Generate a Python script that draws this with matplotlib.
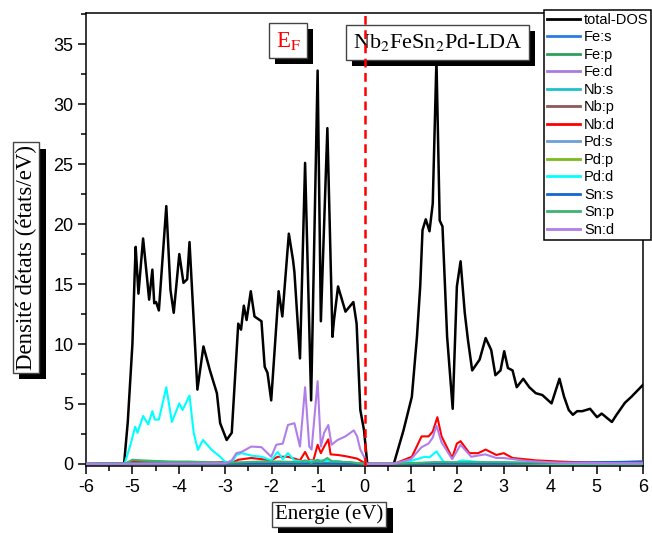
import matplotlib
matplotlib.use("Agg")
import matplotlib.pyplot as plt
from matplotlib import patheffects as pe
from matplotlib.ticker import MultipleLocator

plt.rcParams['font.family'] = ['Liberation Sans', 'DejaVu Sans']
plt.rcParams['axes.unicode_minus'] = False
plt.rcParams['mathtext.fontset'] = 'stix'

# ---------------- data ----------------
tot_E = [-6.0, -5.18, -5.10, -5.00, -4.95, -4.93, -4.87, -4.77, -4.68, -4.64, -4.57, -4.53, -4.49,
         -4.43, -4.27, -4.18, -4.11, -3.99, -3.90, -3.82, -3.77, -3.68, -3.60, -3.47, -3.33,
         -3.18, -3.11, -2.97, -2.86, -2.72, -2.66, -2.60, -2.54, -2.45, -2.37, -2.22, -2.15,
         -2.09, -2.01, -1.85, -1.77, -1.63, -1.54, -1.51, -1.39, -1.28, -1.15, -1.01, -0.94,
         -0.80, -0.69, -0.66, -0.57, -0.41, -0.24, -0.17, -0.09, -0.01, 0.06, 0.63, 0.84,
         1.02, 1.13, 1.20, 1.25, 1.32, 1.40, 1.47, 1.55, 1.62, 1.68, 1.78, 1.90, 1.99, 2.07,
         2.16, 2.23, 2.32, 2.48, 2.61, 2.73, 2.82, 2.93, 3.01, 3.09, 3.19, 3.28, 3.42, 3.55,
         3.69, 3.83, 4.03, 4.20, 4.30, 4.40, 4.49, 4.58, 4.69, 4.86, 5.01, 5.11, 5.33, 5.43,
         5.61, 5.75, 6.0]
tot_V = [0.0, 0.0, 3.5, 10.0, 16.0, 18.1, 14.2, 18.8, 15.3, 13.7, 16.2, 13.4, 13.5,
         12.8, 21.5, 14.5, 12.6, 17.5, 15.1, 15.4, 18.5, 12.0, 6.2, 9.8, 7.8,
         5.9, 3.4, 2.0, 2.6, 11.7, 11.2, 13.2, 12.0, 14.4, 12.3, 11.9, 8.1,
         7.6, 5.3, 14.4, 12.3, 19.2, 17.0, 16.0, 8.8, 25.1, 5.3, 32.8, 11.9,
         28.0, 10.6, 11.9, 14.8, 12.7, 13.5, 11.7, 4.5, 2.8, 0.0, 0.0, 2.8,
         5.6, 10.6, 14.8, 19.5, 20.4, 19.4, 21.7, 33.7, 20.3, 19.8, 10.6, 4.6, 14.8, 16.9,
         12.6, 10.3, 7.8, 8.7, 10.5, 9.5, 7.4, 7.8, 9.4, 8.0, 7.8, 6.4, 7.1, 6.4,
         5.9, 5.75, 5.05, 7.1, 5.6, 4.5, 4.1, 4.4, 4.4, 4.6, 3.9, 4.2, 3.5, 4.1,
         5.1, 5.6, 6.6]

pdd_E = [-6.0, -5.17, -5.05, -4.94, -4.89, -4.77, -4.66, -4.57, -4.52, -4.43, -4.27, -4.15,
         -3.99, -3.92, -3.77, -3.68, -3.59, -3.48, -3.29, -3.11, -3.01, -2.86, -2.76, -2.65,
         -2.44, -2.22, -2.01, -1.87, -1.76, -1.65, -1.51, -1.30, -1.01, -0.73, -0.30, 0.0,
         0.6, 1.0, 1.3, 1.4, 1.55, 1.7, 1.9, 2.1, 2.5, 3.0, 4.0, 6.0]
pdd_V = [0.0, 0.0, 1.5, 3.1, 2.6, 4.0, 3.3, 4.4, 3.7, 3.7, 6.4, 3.5,
         5.05, 4.5, 5.7, 2.6, 1.17, 2.0, 1.17, 0.6, 0.2, 0.1, 0.75, 0.9,
         0.7, 0.6, 0.3, 1.0, 0.4, 0.9, 0.3, 0.2, 0.3, 0.25, 0.1, 0.0,
         0.0, 0.25, 0.6, 0.55, 1.05, 0.2, 0.05, 0.3, 0.15, 0.1, 0.05, 0.05]

snd_E = [-6.0, -3.0, -2.86, -2.76, -2.65, -2.44, -2.22, -2.01, -1.90, -1.76, -1.65, -1.51,
         -1.39, -1.28, -1.19, -1.14, -1.01, -0.94, -0.87, -0.78, -0.71, -0.58, -0.41, -0.23,
         -0.16, -0.09, -0.01, 0.05, 0.6, 1.0, 1.23, 1.38, 1.47, 1.55, 1.66, 1.89, 2.07, 2.3,
         2.6, 2.84, 3.0, 3.5, 4.2, 6.0]
snd_V = [0.0, 0.05, 0.3, 0.9, 1.0, 1.45, 1.4, 0.6, 1.6, 1.7, 3.25, 3.4,
         1.45, 6.4, 1.45, 1.2, 6.9, 1.45, 2.6, 3.25, 1.6, 2.0, 2.3, 2.8,
         2.3, 1.2, 0.6, 0.0, 0.0, 0.4, 1.4, 1.7, 2.2, 3.2, 1.8, 0.4, 1.6, 0.6,
         0.8, 0.5, 0.5, 0.25, 0.1, 0.05]

nbd_E = [-6.0, -5.17, -5.0, -4.5, -4.0, -3.5, -3.0, -2.86, -2.72, -2.44, -2.22, -2.01,
         -1.87, -1.65, -1.51, -1.39, -1.28, -1.19, -1.10, -1.01, -0.94, -0.87, -0.78, -0.73,
         -0.58, -0.41, -0.16, -0.05, 0.02, 0.63, 1.02, 1.23, 1.38, 1.47, 1.57, 1.66, 1.89,
         1.99, 2.07, 2.26, 2.45, 2.61, 2.84, 3.0, 3.19, 3.69, 4.2, 5.0, 6.0]
nbd_V = [0.0, 0.0, 0.15, 0.1, 0.15, 0.1, 0.15, 0.1, 0.35, 0.5, 0.4, 0.3,
         0.6, 0.6, 0.45, 0.3, 1.0, 0.3, 0.3, 1.6, 0.9, 1.45, 2.05, 0.8,
         0.75, 0.65, 0.45, 0.2, 0.0, 0.0, 0.6, 2.3, 2.3, 2.7, 3.9, 2.3, 0.5,
         1.7, 1.9, 0.9, 0.9, 1.2, 0.75, 0.9, 0.5, 0.3, 0.2, 0.1, 0.2]

snp_E = [-6.0, -5.17, -5.0, -4.8, -4.5, -4.2, -3.8, -3.0, -2.6, -2.2, -1.8, -1.4, -1.28,
         -1.15, -1.01, -0.94, -0.80, -0.70, -0.30, 0.0, 0.6, 1.5, 2.0, 3.0, 4.0, 6.0]
snp_V = [0.0, 0.0, 0.35, 0.3, 0.25, 0.2, 0.2, 0.1, 0.15, 0.2, 0.2, 0.15, 0.3,
         0.1, 0.35, 0.15, 0.5, 0.2, 0.15, 0.0, 0.0, 0.15, 0.15, 0.15, 0.1, 0.05]

fep_E = [-6.0, -5.17, -5.0, -4.5, -4.0, -3.0, -2.0, -1.28, -1.01, -0.80, -0.3, 0.0, 0.6, 1.5, 3.0, 6.0]
fep_V = [0.0, 0.0, 0.25, 0.2, 0.15, 0.05, 0.1, 0.2, 0.25, 0.3, 0.1, 0.0, 0.0, 0.1, 0.05, 0.02]

fed_E = [-6.0, -3.0, -1.5, -1.0, -0.5, 0.0, 0.6, 1.5, 3.0, 6.0]
fed_V = [0.0, 0.02, 0.05, 0.08, 0.05, 0.0, 0.0, 0.08, 0.03, 0.02]

small_E = [-6.0, -5.0, -3.0, -1.0, 0.0, 0.6, 1.5, 3.0, 6.0]
fes_V = [0.0, 0.03, 0.02, 0.04, 0.0, 0.0, 0.04, 0.03, 0.15]
nbs_V = [0.0, 0.04, 0.02, 0.05, 0.0, 0.0, 0.05, 0.03, 0.1]
nbp_V = [0.0, 0.05, 0.03, 0.06, 0.0, 0.0, 0.06, 0.04, 0.08]
pds_V = [0.0, 0.03, 0.02, 0.03, 0.0, 0.0, 0.03, 0.02, 0.05]
pdp_V = [0.0, 0.06, 0.03, 0.05, 0.0, 0.0, 0.04, 0.03, 0.05]
sns_V = [0.0, 0.03, 0.02, 0.03, 0.0, 0.0, 0.03, 0.02, 0.2]

labels = ['total-DOS', 'Fe:s', 'Fe:p', 'Fe:d', 'Nb:s', 'Nb:p', 'Nb:d',
          'Pd:s', 'Pd:p', 'Pd:d', 'Sn:s', 'Sn:p', 'Sn:d']
colors = ['black', '#2a7de1', '#2ca05a', '#a97be0', '#1fc1c9', '#8c5a5a', '#ff0000',
          '#6b9fd6', '#7bbb1c', '#00ffff', '#1565d6', '#3cb371', '#b07ee8']
series = [(tot_E, tot_V), (small_E, fes_V), (fep_E, fep_V), (fed_E, fed_V),
          (small_E, nbs_V), (small_E, nbp_V), (nbd_E, nbd_V), (small_E, pds_V),
          (small_E, pdp_V), (pdd_E, pdd_V), (small_E, sns_V), (snp_E, snp_V), (snd_E, snd_V)]

# ---------------- figure ----------------
W, H = 652, 533
fig = plt.figure(figsize=(W / 100, H / 100), dpi=100)
ax = fig.add_axes([86 / W, 1 - 466 / H, (643 - 86) / W, (466 - 13) / H])

for (xe, yv), lab, col in zip(series, labels, colors):
    ax.plot(xe, yv, color=col, lw=1.8 if lab == 'total-DOS' else 1.5, label=lab, zorder=3)

ax.axvline(0, color='red', lw=1.8, linestyle=(0, (3.5, 2.2)), zorder=6)

ax.set_xlim(-6, 6)
ax.set_ylim(-0.17, 37.6)
ax.xaxis.set_major_locator(MultipleLocator(1))
ax.xaxis.set_minor_locator(MultipleLocator(0.5))
ax.yaxis.set_major_locator(MultipleLocator(5))
ax.yaxis.set_minor_locator(MultipleLocator(2.5))
ax.tick_params(which='major', direction='out', length=6, width=1.1, labelsize=13, pad=3)
ax.tick_params(which='minor', direction='out', length=3.5, width=1.1)
for s in ax.spines.values():
    s.set_linewidth(1.1)

leg = ax.legend(loc='upper right', bbox_to_anchor=(1.015, 1.007), fontsize=10.5,
                frameon=True, fancybox=False, edgecolor='black', framealpha=1,
                borderpad=0.2, borderaxespad=0, labelspacing=0.24, handlelength=2.3,
                handletextpad=0.25)
leg.get_frame().set_linewidth(1.1)
for ln in leg.get_lines():
    ln.set_linewidth(2)

shadow = [pe.SimplePatchShadow(offset=(4.5, -4.5), shadow_rgbFace='black', alpha=1.0), pe.Normal()]
serif = ['Liberation Serif', 'DejaVu Serif']

t1 = ax.text(1.57, 35.15, r'Nb$_2$FeSn$_2$Pd-LDA', ha='center', va='center', fontsize=16,
             family=serif, zorder=4,
             bbox=dict(boxstyle='square,pad=0.3', fc='white', ec='#444444', lw=1.0))
t1.get_bbox_patch().set_path_effects(shadow)

t2 = ax.text(-1.645, 35.3, r'E$_\mathrm{F}$', ha='center', va='center', fontsize=16.5,
             family=serif, color='red', zorder=4,
             bbox=dict(boxstyle='square,pad=0.28', fc='white', ec='#444444', lw=1.0))
t2.get_bbox_patch().set_path_effects(shadow)

t3 = fig.text(26 / W, 1 - 257.5 / H, 'Densité détats (états/eV)', rotation=90, ha='center',
              va='center', fontsize=16.5, family=serif,
              bbox=dict(boxstyle='square,pad=0.12', fc='white', ec='#444444', lw=1.0))
t3.get_bbox_patch().set_path_effects(shadow)

t4 = fig.text(329 / W, 1 - 514.5 / H, 'Energie (eV)', ha='center', va='center', fontsize=15,
              family=serif,
              bbox=dict(boxstyle='square,pad=0.15', fc='white', ec='#444444', lw=1.0))
t4.get_bbox_patch().set_path_effects(shadow)

fig.savefig('out.png', dpi=100)
